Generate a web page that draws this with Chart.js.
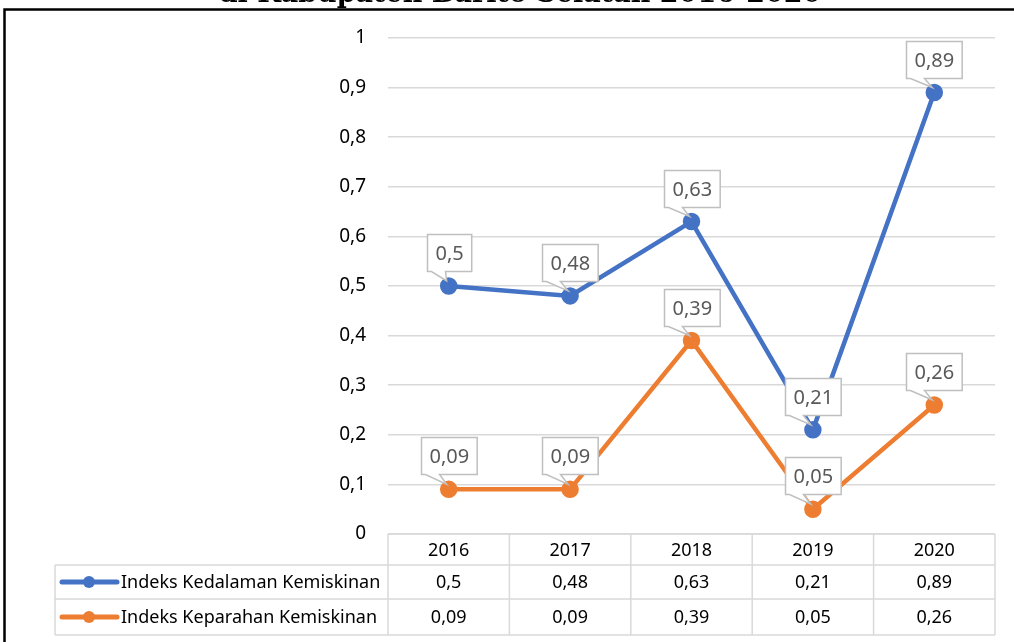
<!DOCTYPE html>
<html>
<head>
<meta charset="utf-8">
<script src="https://cdn.jsdelivr.net/npm/chart.js@4/dist/chart.umd.min.js"></script>
<style>
  html, body { margin: 0; padding: 0; background: #fff; }
  #wrap { width: 1014px; height: 642px; }
</style>
</head>
<body>
<div id="wrap"><canvas id="chart" width="1014" height="642"></canvas></div>
<script>
const years = ['2016', '2017', '2018', '2019', '2020']
const kedalaman = [0.5, 0.48, 0.63, 0.21, 0.89]
const keparahan = [0.09, 0.09, 0.39, 0.05, 0.26]
const seriesNames = ['Indeks Kedalaman Kemiskinan', 'Indeks Keparahan Kemiskinan']
const title = 'di Kabupaten Barito Selatan 2016-2020'

const BLUE = '#4472C4'
const ORANGE = '#ED7D31'
const FONT = '"Noto Sans", sans-serif'

const fmt = v => Number(v.toFixed(2)).toString().replace('.', ',')

// callout boxes + data table + frame
const extras = {
    id: 'extras',
    afterDatasetsDraw(chart) {
        const ctx = chart.ctx
        ctx.save()
        ctx.font = '20px ' + FONT
        chart.data.datasets.forEach((ds, di) => {
            chart.getDatasetMeta(di).data.forEach((pt, i) => {
                const px = pt.x, py = pt.y
                const txt = fmt(ds.data[i])
                const w = ctx.measureText(txt).width + 16
                const h = 37
                const bx = Math.round(px - w / 2) + 0.5
                const by = Math.round(py - 15 - h) + 0.5
                ctx.beginPath()
                ctx.moveTo(bx, by)
                ctx.lineTo(bx + w, by)
                ctx.lineTo(bx + w, by + h)
                ctx.lineTo(bx + 18, by + h)
                ctx.lineTo(px - 2, py - 5)
                ctx.lineTo(bx + 4, by + h)
                ctx.lineTo(bx, by + h)
                ctx.closePath()
                ctx.fillStyle = '#fff'
                ctx.fill()
                ctx.strokeStyle = '#bfbfbf'
                ctx.lineWidth = 1.5
                ctx.stroke()
                ctx.fillStyle = '#595959'
                ctx.textAlign = 'center'
                ctx.textBaseline = 'middle'
                ctx.fillText(txt, bx + w / 2, by + h / 2 + 1)
            })
        })
        ctx.restore()
    },
    afterDraw(chart) {
        const ctx = chart.ctx
        const area = chart.chartArea
        const x = chart.scales.x
        const half = (x.getPixelForValue(1) - x.getPixelForValue(0)) / 2
        const left = x.getPixelForValue(0) - half
        const right = x.getPixelForValue(years.length - 1) + half
        const tabLeft = 55
        const rows = [area.bottom, area.bottom + 31, area.bottom + 65, area.bottom + 101]

        ctx.save()
        ctx.strokeStyle = '#d9d9d9'
        ctx.lineWidth = 1.5
        ctx.beginPath()
        ctx.moveTo(left, rows[0]); ctx.lineTo(right, rows[0])
        for (let r = 1; r < rows.length; r++) {
            ctx.moveTo(tabLeft, rows[r]); ctx.lineTo(right, rows[r])
        }
        ctx.moveTo(tabLeft, rows[1]); ctx.lineTo(tabLeft, rows[3])
        for (let c = 0; c <= years.length; c++) {
            const cx = left + c * half * 2
            ctx.moveTo(cx, rows[0]); ctx.lineTo(cx, rows[3])
        }
        ctx.stroke()

        ctx.fillStyle = '#000'
        ctx.font = '18px ' + FONT
        ctx.textAlign = 'center'
        ctx.textBaseline = 'middle'
        years.forEach((y, i) => {
            const cx = x.getPixelForValue(i)
            ctx.fillText(y, cx, (rows[0] + rows[1]) / 2 + 1)
            ctx.fillText(fmt(kedalaman[i]), cx, (rows[1] + rows[2]) / 2 + 1)
            ctx.fillText(fmt(keparahan[i]), cx, (rows[2] + rows[3]) / 2 + 1)
        })

        const colors = [BLUE, ORANGE]
        seriesNames.forEach((name, s) => {
            const cy = (rows[s + 1] + rows[s + 2]) / 2
            ctx.strokeStyle = colors[s]
            ctx.lineWidth = 5
            ctx.lineCap = 'round'
            ctx.beginPath()
            ctx.moveTo(62, cy); ctx.lineTo(117, cy)
            ctx.stroke()
            ctx.fillStyle = colors[s]
            ctx.beginPath()
            ctx.arc(89, cy, 6, 0, Math.PI * 2)
            ctx.fill()
            ctx.fillStyle = '#000'
            ctx.textAlign = 'left'
            ctx.fillText(name, 121, cy + 1)
        })

        // frame and cut title
        ctx.strokeStyle = '#000'
        ctx.lineWidth = 2.5
        ctx.lineCap = 'butt'
        ctx.beginPath()
        ctx.moveTo(4.5, 642); ctx.lineTo(4.5, 9.5); ctx.lineTo(1014, 9.5)
        ctx.stroke()
        ctx.fillStyle = '#000'
        ctx.font = 'bold 27px "DejaVu Serif", serif'
        ctx.textAlign = 'center'
        ctx.textBaseline = 'alphabetic'
        ctx.fillText(title, 520, 2)
        ctx.restore()
    }
}

new Chart(document.getElementById('chart').getContext('2d'), {
    type: 'line',
    data: {
        labels: years,
        datasets: [{
            label: seriesNames[0],
            data: kedalaman,
            borderColor: BLUE,
            backgroundColor: BLUE,
            borderWidth: 4.5,
            pointRadius: 6.5,
            pointHoverRadius: 6.5,
            tension: 0
        }, {
            label: seriesNames[1],
            data: keparahan,
            borderColor: ORANGE,
            backgroundColor: ORANGE,
            borderWidth: 4.5,
            pointRadius: 6.5,
            pointHoverRadius: 6.5,
            tension: 0
        }]
    },
    options: {
        responsive: false,
        animation: false,
        layout: { padding: { left: 0, right: 19, top: 38, bottom: 108 } },
        plugins: {
            legend: { display: false },
            tooltip: { enabled: false }
        },
        scales: {
            x: {
                display: false,
                offset: true
            },
            y: {
                min: 0,
                max: 1,
                afterFit: scale => { scale.width = 388 },
                border: { display: false },
                grid: { color: '#d9d9d9', lineWidth: 1.5, drawTicks: false },
                ticks: {
                    stepSize: 0.1,
                    padding: 22,
                    color: '#000',
                    font: { family: '"Noto Sans", sans-serif', size: 19 },
                    callback: v => fmt(v)
                }
            }
        }
    },
    plugins: [extras]
})
</script>
</body>
</html>
